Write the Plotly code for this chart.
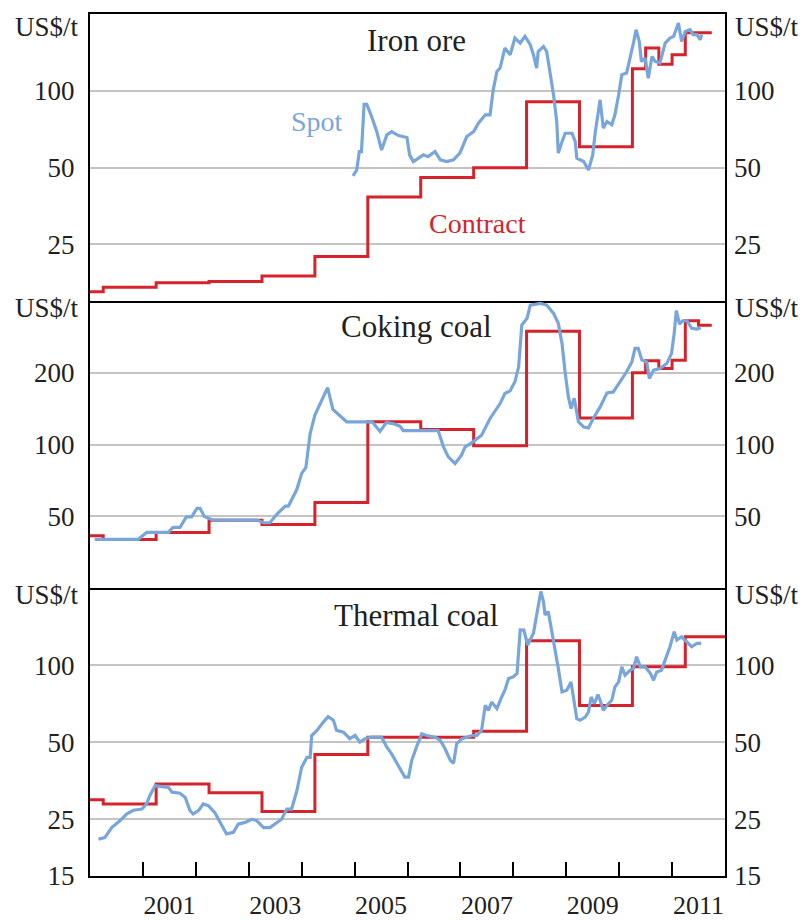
import plotly.graph_objects as go
import math

# ---------------- data (decimal years, US$/t) ----------------
iron_contract_x = [2000.0, 2000.25, 2001.25, 2002.25, 2003.25, 2004.25, 2005.25, 2006.25, 2007.25,
                   2008.25, 2009.25, 2010.25, 2010.5, 2010.75, 2011.0, 2011.25, 2011.75]
iron_contract_y = [16.3, 17.0, 17.7, 17.9, 18.8, 22.4, 38.4, 45.7, 50.0,
                   90.5, 60.3, 122, 147, 127, 138.5, 169, 169]

iron_spot_x = [2004.97, 2005.04, 2005.09, 2005.13, 2005.18, 2005.23, 2005.31, 2005.36, 2005.42, 2005.51,
               2005.61, 2005.70, 2005.83, 2005.99, 2006.04, 2006.11, 2006.21, 2006.30, 2006.39, 2006.52,
               2006.62, 2006.74, 2006.87, 2006.99, 2007.12, 2007.25, 2007.34, 2007.47, 2007.56, 2007.62,
               2007.69, 2007.75, 2007.84, 2007.94, 2008.03, 2008.13, 2008.22, 2008.32, 2008.38, 2008.44,
               2008.47, 2008.57, 2008.63, 2008.70, 2008.76, 2008.82, 2008.85, 2008.92, 2008.98, 2009.11,
               2009.17, 2009.20, 2009.33, 2009.42, 2009.50, 2009.55, 2009.64, 2009.70, 2009.77, 2009.86,
               2009.92, 2009.99, 2010.05, 2010.14, 2010.21, 2010.27, 2010.32, 2010.38, 2010.42, 2010.49,
               2010.55, 2010.62, 2010.68, 2010.77, 2010.87, 2010.96, 2011.03, 2011.12, 2011.18, 2011.25,
               2011.34, 2011.40, 2011.47, 2011.53, 2011.56]
iron_spot_y = [46.4, 48.9, 57.8, 57.8, 88.6, 88.6, 80.5, 75.8, 69.2, 58.6,
               67.2, 69.2, 66.8, 65.6, 56.1, 52.8, 54.4, 56.1, 55.2, 57.8,
               53.6, 52.8, 53.6, 57.0, 66.2, 69.2, 74.7, 80.5, 80.5, 100.9,
               119.1, 122.8, 147.1, 138.5, 161, 153.9, 163.4, 151.6, 138.5, 122.8,
               142.6, 149.3, 142.6, 115.6, 96.5, 75.8, 57.0, 63.2, 68.2, 68.2,
               63.2, 54.4, 52.8, 48.9, 56.1, 69.2, 92.2, 71.4, 75.8, 73.6,
               80.5, 96.5, 115.6, 117.3, 134.5, 153.9, 173.6, 156.1, 130.3, 134.5,
               112.1, 136.4, 130.3, 128.5, 153.9, 161, 163.4, 184.4, 156.1, 170.9,
               173.6, 165.9, 165.9, 158.6, 165.9]

coking_contract_x = [2000.0, 2000.25, 2001.25, 2002.25, 2003.25, 2004.25, 2005.25, 2006.25, 2007.25,
                     2008.25, 2009.25, 2010.25, 2010.5, 2010.75, 2011.0, 2011.25, 2011.5, 2011.75]
coking_contract_y = [41.5, 40.0, 42.8, 48.2, 46.2, 57.2, 124.6, 115.8, 98.8,
                     299, 129.4, 200, 224.5, 208.6, 226, 330.7, 317, 317]

coking_spot_x = [2000.09, 2000.91, 2001.07, 2001.48, 2001.57, 2001.70, 2001.82, 2001.92, 2002.02, 2002.08,
                 2002.16, 2002.33, 2003.15, 2003.28, 2003.40, 2003.53, 2003.69, 2003.75, 2003.91, 2004.00,
                 2004.08, 2004.16, 2004.25, 2004.36, 2004.49, 2004.59, 2004.85, 2005.33, 2005.48, 2005.60,
                 2005.75, 2005.86, 2005.92, 2006.58, 2006.68, 2006.77, 2006.90, 2007.02, 2007.09, 2007.21,
                 2007.40, 2007.56, 2007.75, 2007.84, 2007.94, 2008.03, 2008.10, 2008.16, 2008.26, 2008.32,
                 2008.51, 2008.63, 2008.76, 2008.85, 2008.92, 2008.98, 2009.04, 2009.09, 2009.15, 2009.23,
                 2009.33, 2009.42, 2009.51, 2009.64, 2009.77, 2009.89, 2010.02, 2010.14, 2010.24, 2010.30,
                 2010.36, 2010.43, 2010.52, 2010.57, 2010.65, 2010.77, 2010.90, 2010.99, 2011.04, 2011.08,
                 2011.14, 2011.20, 2011.28, 2011.37, 2011.47, 2011.54]
coking_spot_y = [40.0, 40.0, 42.8, 42.8, 44.9, 44.9, 49.7, 49.7, 54.0, 54.0,
                 49.9, 48.2, 48.2, 47.0, 47.0, 51.0, 55.2, 55.2, 64.9, 75.7,
                 80.2, 111.1, 132.9, 151.4, 173.3, 140.4, 124.6, 124.6, 113.6, 123.7,
                 122.0, 119.3, 114.5, 114.5, 97.8, 88.8, 83.3, 90.3, 97.8, 101.7,
                 109.5, 128.7, 148.6, 163.8, 168, 183.4, 211.9, 317, 338.5, 384.8,
                 391, 384.8, 355, 322.5, 265.8, 199.4, 158.8, 141.6, 156.3, 124.6,
                 118.5, 117.5, 128.7, 143.9, 164.8, 166.3, 183.4, 202, 222.2, 253.3,
                 253.3, 226, 222, 189.4, 205.3, 208.6, 218.7, 241.3, 292.8, 364.3,
                 320.3, 330.7, 330.7, 307.2, 305, 309]

thermal_contract_x = [2000.0, 2000.25, 2001.25, 2002.25, 2003.25, 2004.25, 2005.25, 2007.25,
                      2008.25, 2009.25, 2010.25, 2011.25, 2012.0]
thermal_contract_y = [29.8, 28.7, 34.3, 31.7, 26.8, 44.8, 52.3, 55.2,
                      124.6, 69.6, 98.5, 129.1, 129.1]

thermal_spot_x = [2000.16, 2000.28, 2000.41, 2000.57, 2000.69, 2000.82, 2000.98, 2001.07, 2001.13, 2001.23,
                  2001.36, 2001.48, 2001.55, 2001.70, 2001.80, 2001.89, 2001.95, 2002.05, 2002.14, 2002.24,
                  2002.36, 2002.46, 2002.58, 2002.71, 2002.80, 2002.93, 2003.06, 2003.15, 2003.28, 2003.40,
                  2003.53, 2003.62, 2003.72, 2003.81, 2003.91, 2004.00, 2004.10, 2004.16, 2004.19, 2004.29,
                  2004.41, 2004.50, 2004.60, 2004.66, 2004.79, 2004.91, 2005.01, 2005.10, 2005.20, 2005.32,
                  2005.51, 2005.61, 2005.70, 2005.86, 2005.95, 2006.02, 2006.08, 2006.18, 2006.27, 2006.36,
                  2006.52, 2006.62, 2006.71, 2006.81, 2006.87, 2006.93, 2007.03, 2007.12, 2007.22, 2007.31,
                  2007.40, 2007.47, 2007.53, 2007.59, 2007.69, 2007.78, 2007.84, 2007.91, 2008.00, 2008.07,
                  2008.13, 2008.20, 2008.27, 2008.38, 2008.47, 2008.52, 2008.57, 2008.60, 2008.66, 2008.72,
                  2008.79, 2008.85, 2008.92, 2009.01, 2009.09, 2009.13, 2009.20, 2009.26, 2009.36, 2009.42,
                  2009.47, 2009.53, 2009.60, 2009.64, 2009.70, 2009.77, 2009.86, 2009.92, 2009.99, 2010.05,
                  2010.11, 2010.21, 2010.27, 2010.33, 2010.40, 2010.49, 2010.59, 2010.65, 2010.71, 2010.80,
                  2010.90, 2010.96, 2011.04, 2011.09, 2011.18, 2011.28, 2011.37, 2011.47, 2011.55]
thermal_spot_y = [20.9, 21.2, 23.2, 24.7, 26.2, 27.1, 27.4, 28.7, 30.9, 33.8,
                  33.5, 33.3, 31.9, 31.6, 30.4, 27.0, 26.2, 27.0, 28.7, 28.2,
                  26.5, 24.3, 21.9, 22.2, 23.9, 24.3, 25.0, 24.7, 23.2, 23.2,
                  24.3, 25.0, 27.4, 27.4, 32.3, 39.9, 43.6, 43.6, 53.1, 55.6,
                  59.9, 62.9, 60.9, 55.6, 54.7, 51.6, 53.1, 50.0, 51.6, 52.3,
                  52.3, 47.8, 45.0, 39.3, 36.5, 36.5, 42.4, 48.5, 53.9, 53.1,
                  52.3, 50.8, 47.1, 42.4, 41.4, 49.3, 51.6, 52.3, 53.1, 53.1,
                  55.6, 69.7, 66.6, 71.8, 67.6, 75.1, 79.8, 88.7, 90.0, 92.8,
                  137.2, 137, 119.8, 133.2, 172, 194, 177, 157, 161.9, 139.3,
                  112.8, 97.1, 78.6, 79.8, 86.0, 76.3, 61.8, 60.9, 62.7, 65.6,
                  75.1, 70.8, 76.7, 72.9, 66.6, 69.7, 72.9, 82.2, 86.0, 98.5,
                  91.3, 95.6, 97.1, 107.8, 98.5, 98.5, 92.8, 87.3, 94.1, 95.6,
                  107.8, 118, 135.1, 125.3, 129.1, 123.4, 118, 121.7, 121.7]

panel_titles = ["Iron ore", "Coking coal", "Thermal coal"]
panel_ranges = [(15, 200), (25, 400), (15, 200)]
panel_ticks = [[25, 50, 100], [50, 100, 200], [15, 25, 50, 100]]
year_label_vals = [2001.5, 2003.5, 2005.5, 2007.5, 2009.5, 2011.5]
year_label_text = ["2001", "2003", "2005", "2007", "2009", "2011"]
year_tick_vals = list(range(2001, 2012))

# ---------------- styling ----------------
BLUE = "#78A6DB"
RED = "#D6232B"
TXT = "#231F20"
FONT = "Liberation Serif, Times New Roman, serif"
FS = 27

fig = go.Figure()

series = [
    (iron_spot_x, iron_spot_y, iron_contract_x, iron_contract_y),
    (coking_spot_x, coking_spot_y, coking_contract_x, coking_contract_y),
    (thermal_spot_x, thermal_spot_y, thermal_contract_x, thermal_contract_y),
]

domains = [[0.667, 1.0], [0.334, 0.667], [0.0, 0.334]]

for i, (sx, sy, cx, cy) in enumerate(series):
    xa = "x" if i == 0 else f"x{i+1}"
    ya = "y" if i == 0 else f"y{i+1}"
    fig.add_trace(go.Scatter(x=cx, y=cy, mode="lines", line=dict(color=RED, width=3, shape="hv"),
                             xaxis=xa, yaxis=ya, showlegend=False, hoverinfo="skip"))
    fig.add_trace(go.Scatter(x=sx, y=sy, mode="lines", line=dict(color=BLUE, width=3.2),
                             xaxis=xa, yaxis=ya, showlegend=False, hoverinfo="skip"))
    ra = f"y{i+4}"
    fig.add_trace(go.Scatter(x=[cx[0]], y=[cy[0]], mode="lines", line=dict(width=0),
                             xaxis=xa, yaxis=ra, showlegend=False, hoverinfo="skip", opacity=0))

layout = dict(
    width=805, height=921,
    margin=dict(l=90, r=80, t=14, b=45, autoexpand=False),
    paper_bgcolor="white", plot_bgcolor="white",
    font=dict(family=FONT, size=FS, color=TXT),
)

for i in range(3):
    xk = "xaxis" if i == 0 else f"xaxis{i+1}"
    yk = "yaxis" if i == 0 else f"yaxis{i+1}"
    ya = "y" if i == 0 else f"y{i+1}"
    xa = "x" if i == 0 else f"x{i+1}"
    lo, hi = panel_ranges[i]
    bottom = (i == 2)
    xd = dict(
        range=[2000, 2012], domain=[0, 1], anchor=ya, automargin=False,
        showgrid=False, zeroline=False,
        showline=True, mirror=(i == 0), linecolor="black", linewidth=2,
        tickmode="array", tickvals=year_label_vals if bottom else [],
        ticktext=year_label_text if bottom else [],
        ticks="", showticklabels=bottom,
        ticklabelstandoff=5,
        tickfont=dict(family=FONT, size=26, color=TXT),
    )
    if i > 0:
        xd["matches"] = "x"
    if bottom:
        xd["minor"] = dict(tickmode="array", tickvals=year_tick_vals, ticks="inside",
                           ticklen=14, tickwidth=2, tickcolor="black", showgrid=False)
    layout[xk] = xd
    common_y = dict(
        type="log", range=[math.log10(lo), math.log10(hi)], domain=domains[i],
        tickmode="array", tickvals=panel_ticks[i], ticktext=[str(v) for v in panel_ticks[i]],
        ticks="", ticklabelstandoff=8, automargin=False,
        tickfont=dict(family=FONT, size=FS, color=TXT),
        zeroline=False,
    )
    layout[yk] = dict(common_y, anchor=xa, showgrid=True, gridcolor="#C4C4C4", gridwidth=1.5,
                      showline=True, mirror=True, linecolor="black", linewidth=2, side="left")
    layout[f"yaxis{i+4}"] = dict(common_y, anchor=xa, overlaying=ya, side="right",
                                 showgrid=False, showline=False)

fig.update_layout(**layout)

# ---------------- annotations ----------------
def px_y(py):
    return (876 - py) / 862.0

def px_x(px):
    return (px - 90) / 635.0

ann = []
title_y = [40, 326.7, 615]
for t, yy in zip(panel_titles, title_y):
    ann.append(dict(text=t, x=px_x(416), y=px_y(yy), xref="paper", yref="paper",
                    showarrow=False, xanchor="center", yanchor="middle",
                    font=dict(family=FONT, size=31, color=TXT)))
unit_y = [27, 308, 595]
for yy in unit_y:
    ann.append(dict(text="US$/t", x=0, y=px_y(yy), xref="paper", yref="paper", showarrow=False,
                    xanchor="right", yanchor="middle", xshift=-9,
                    font=dict(family=FONT, size=FS, color=TXT)))
    ann.append(dict(text="US$/t", x=1, y=px_y(yy), xref="paper", yref="paper", showarrow=False,
                    xanchor="left", yanchor="middle", xshift=8,
                    font=dict(family=FONT, size=FS, color=TXT)))
ann.append(dict(text="Spot", x=px_x(317), y=px_y(121.7), xref="paper", yref="paper", showarrow=False,
                xanchor="center", yanchor="middle", font=dict(family=FONT, size=28, color=BLUE)))
ann.append(dict(text="Contract", x=px_x(477), y=px_y(224), xref="paper", yref="paper", showarrow=False,
                xanchor="center", yanchor="middle", font=dict(family=FONT, size=28, color=RED)))
fig.update_layout(annotations=ann)

fig.write_html("out.html", config={"displayModeBar": False},
               post_script="document.body.style.margin='0px';")
